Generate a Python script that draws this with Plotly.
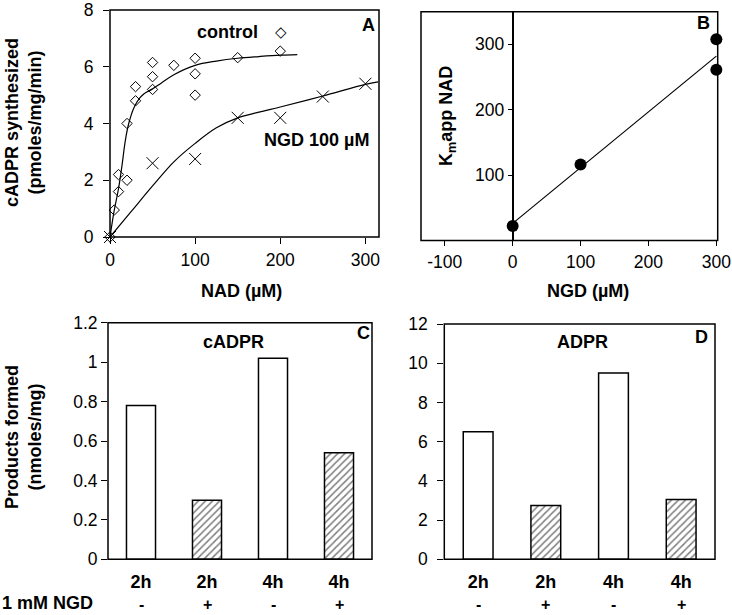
import plotly.graph_objects as go

W, H = 732, 615
FONT = "Liberation Sans"

# ---- Panel A data ----
ctrl_nad = [0, 5, 10, 10, 20, 20, 30, 30, 50, 50, 50, 75, 100, 100, 100, 150, 200]
ctrl_rate = [0, 0.95, 1.6, 2.2, 2.0, 4.0, 4.8, 5.3, 5.2, 5.65, 6.15, 6.05, 6.3, 5.75, 5.0, 6.32, 6.55]
ngd_nad = [0, 50, 100, 150, 200, 250, 300]
ngd_rate = [0, 2.6, 2.75, 4.2, 4.2, 4.95, 5.4]
# fitted curves
ctrl_fit_x = [0, 5, 10, 14, 18, 22, 28, 35, 40, 50, 60, 75, 100, 125, 150, 175, 200, 220]
ctrl_fit_y = [0, 0.95, 1.7, 2.5, 3.4, 4.0, 4.55, 4.9, 5.05, 5.22, 5.42, 5.72, 6.05, 6.2, 6.3, 6.36, 6.41, 6.43]
ngd_fit_x = [0, 25, 50, 75, 100, 125, 150, 175, 200, 250, 300, 315]
ngd_fit_y = [0, 0.9, 1.8, 2.65, 3.3, 3.85, 4.2, 4.4, 4.58, 4.97, 5.38, 5.47]

# ---- Panel B data ----
ngd_conc = [0, 100, 300, 300]
km_app = [22, 116, 308, 261]
km_fit_x = [0, 300]
km_fit_y = [26, 282]
b_xticks = [-100, 0, 100, 200, 300]
b_xticktext = ["-100", "0", "100", "200", "300"]

# ---- Panels C, D data ----
time_labels = ["2h", "2h", "4h", "4h"]
ngd_labels = ["-", "+", "-", "+"]
cadpr = [0.78, 0.30, 1.02, 0.54]
adpr = [6.5, 2.75, 9.5, 3.05]
hatched = [False, True, False, True]

def px(x):
    return x / W

def py(y):
    return 1 - y / H

fig = go.Figure()

# Panel A
fig.add_trace(go.Scatter(x=ctrl_fit_x, y=ctrl_fit_y, mode="lines", line=dict(color="black", width=1.2, shape="spline"),
                         xaxis="x", yaxis="y", hoverinfo="skip"))
fig.add_trace(go.Scatter(x=ngd_fit_x, y=ngd_fit_y, mode="lines", line=dict(color="black", width=1.2, shape="spline"),
                         xaxis="x", yaxis="y", hoverinfo="skip"))
fig.add_trace(go.Scatter(x=ctrl_nad, y=ctrl_rate, mode="markers",
                         marker=dict(symbol="diamond-open", size=8, color="black", line=dict(width=1, color="black")),
                         xaxis="x", yaxis="y", cliponaxis=False))
fig.add_trace(go.Scatter(x=ngd_nad, y=ngd_rate, mode="markers",
                         marker=dict(symbol="x-thin-open", size=12, color="black", line=dict(width=1, color="black")),
                         xaxis="x", yaxis="y", cliponaxis=False))

# Panel B
fig.add_trace(go.Scatter(x=km_fit_x, y=km_fit_y, mode="lines", line=dict(color="black", width=1.2),
                         xaxis="x2", yaxis="y2"))
fig.add_trace(go.Scatter(x=ngd_conc, y=km_app, mode="markers",
                         marker=dict(symbol="circle", size=12, color="black"),
                         xaxis="x2", yaxis="y2", cliponaxis=False))

# Panels C, D
idx = list(range(len(time_labels)))
def bar_trace(vals, xa, ya):
    return go.Bar(
        x=idx, y=vals, width=0.44, xaxis=xa, yaxis=ya,
        marker=dict(
            color="white",
            line=dict(color="black", width=1.5),
            pattern=dict(shape=["/" if h else "" for h in hatched], fgcolor="black", bgcolor="white",
                         size=5, solidity=0.3),
        ),
    )
fig.add_trace(bar_trace(cadpr, "x3", "y3"))
fig.add_trace(bar_trace(adpr, "x4", "y4"))

tickfont = dict(family=FONT, size=17.5, color="black")
common = dict(showgrid=False, zeroline=False, showline=False, ticks="outside", ticklen=6, tickwidth=1,
              tickcolor="black", tickfont=tickfont, automargin=False, fixedrange=True)

def ax(**kw):
    d = dict(common)
    d.update(kw)
    return d

bold_time = [f"<b>{t}</b>" for t in time_labels]

fig.update_layout(
    width=W, height=H,
    margin=dict(l=0, r=0, t=0, b=0),
    paper_bgcolor="white", plot_bgcolor="white",
    showlegend=False,
    font=dict(family=FONT, size=18, color="black"),
    xaxis=ax(domain=[px(110), px(379)], range=[0, 316], tickvals=[0, 100, 200, 300], anchor="y",
             ticklabelstandoff=1),
    yaxis=ax(domain=[py(237), py(10)], range=[0, 8], tickvals=[0, 2, 4, 6, 8], anchor="x",
             ticklabelstandoff=6),
    xaxis2=ax(domain=[px(421), px(717.7)], range=[-135, 302], tickvals=b_xticks, ticktext=b_xticktext,
              anchor="y2", ticklen=5, ticklabelstandoff=1),
    yaxis2=ax(domain=[py(240.4), py(11.7)], range=[0, 350], tickvals=[100, 200, 300], anchor="free",
              position=px(512.5), showline=True, linecolor="black", linewidth=1.5, ticklen=4),
    xaxis3=ax(domain=[px(108), px(372)], range=[-0.5, 3.5], tickvals=idx, ticktext=bold_time, anchor="y3",
              ticks="", ticklabelstandoff=10, tickfont=dict(family=FONT, size=18, color="black")),
    yaxis3=ax(domain=[py(559.3), py(322.7)], range=[0, 1.2], tickvals=[0, 0.2, 0.4, 0.6, 0.8, 1, 1.2],
              ticktext=["0", "0.2", "0.4", "0.6", "0.8", "1", "1.2"], anchor="x3"),
    xaxis4=ax(domain=[px(444.3), px(715)], range=[-0.5, 3.5], tickvals=idx, ticktext=bold_time, anchor="y4",
              ticks="", ticklabelstandoff=10, tickfont=dict(family=FONT, size=18, color="black")),
    yaxis4=ax(domain=[py(559.3), py(324)], range=[0, 12], tickvals=[0, 2, 4, 6, 8, 10, 12], anchor="x4",
              ticklabelstandoff=6),
    bargap=0.5,
)

# frames
for xa, ya in [("x", "y"), ("x2", "y2"), ("x3", "y3"), ("x4", "y4")]:
    fig.add_shape(type="rect", xref=f"{xa} domain", yref=f"{ya} domain", x0=0, x1=1, y0=0, y1=1,
                  line=dict(color="black", width=1.5), fillcolor="rgba(0,0,0,0)", layer="above")

def ann(text, x, y, size=18, angle=0, xanchor="center", family=FONT):
    fig.add_annotation(text=text, x=px(x), y=py(y), xref="paper", yref="paper", showarrow=False,
                       textangle=angle, xanchor=xanchor, yanchor="middle",
                       font=dict(family=family, size=size, color="black"))

# NGD +/- row beneath the time labels
for xa in ["x3", "x4"]:
    for i, s in zip(idx, ngd_labels):
        fig.add_annotation(text=f"<b>{s}</b>", x=i, xref=xa, y=py(604), yref="paper", showarrow=False,
                           xanchor="center", yanchor="middle", font=dict(family=FONT, size=16, color="black"))

# axis titles
ann("<b>cADPR synthesized</b><br><b>(pmoles/mg/min)</b>", 24, 123, angle=-90)
ann("<b>NAD (µM)</b>", 241.5, 291)
ann("<b>K<sub>m</sub>app NAD</b>", 448, 116, angle=-90)
ann("<b>NGD (µM)</b>", 588, 291)
ann("<b>Products formed</b><br><b>(nmoles/mg)</b>", 23, 437, angle=-90)
ann("<b>1 mM NGD</b>", 0, 603, xanchor="left")

# in-panel labels
ann("<b>control</b>", 227.5, 32.3)
ann("◇", 281, 32.3, size=15, family="DejaVu Sans")
ann("<b>NGD 100 µM</b>", 316.7, 140)
ann("<b>A</b>", 368, 25)
ann("<b>B</b>", 703.3, 23.3)
ann("<b>cADPR</b>", 233, 341.7)
ann("<b>C</b>", 363, 333)
ann("<b>ADPR</b>", 582, 341.7)
ann("<b>D</b>", 701.7, 336.7)

fig.write_html("out.html", config={"displayModeBar": False},
               post_script="document.body.style.margin='0px';document.body.style.overflow='hidden';")
